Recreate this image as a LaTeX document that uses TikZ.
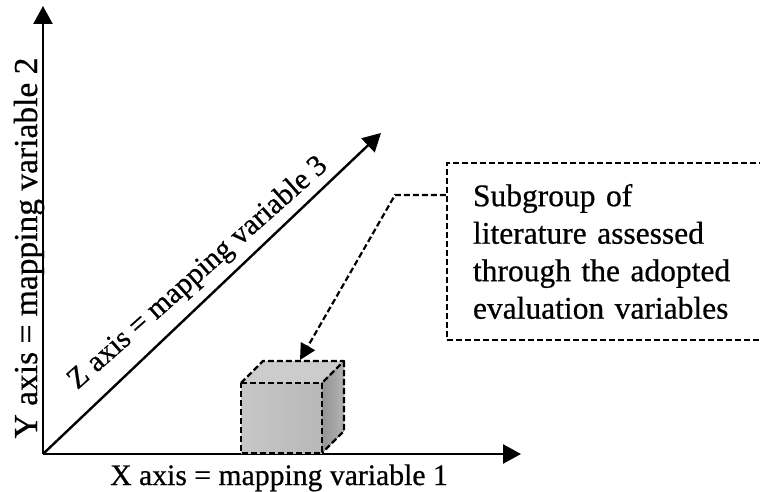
\documentclass[tikz,border=0pt]{standalone}
\usepackage{fontspec}
\setmainfont{Liberation Serif}[FakeBold=0.6]
\usetikzlibrary{arrows.meta}
\begin{document}
\begin{tikzpicture}[x=1pt,y=-1pt,
  axis/.style={line width=2.4pt,-{Triangle[length=18pt,width=19pt]}},
  dashline/.style={line width=2.2pt,dash pattern=on 6pt off 3pt},
  cubeedge/.style={line width=2.2pt,dash pattern=on 6pt off 3pt,line join=round},
  lbl/.style={inner sep=0pt,font=\fontsize{29.7}{36}\selectfont}]
\fill[white] (0,0) rectangle (760,492);
\begin{scope}
\clip (0,0) rectangle (760,492);
% axes
\coordinate (O) at (43,454);
\coordinate (Ytip) at (43,6);
\coordinate (Xtip) at (521,454);
\coordinate (Ztip) at (381,133);
\draw[axis] (O) -- (Ytip);
\draw[axis] (O) -- (Xtip);
\draw[axis] (O) -- (Ztip);
% labels
\node[lbl,anchor=base west] (xl) at (110,485) {X axis = mapping variable 1};
\node[lbl,anchor=base,rotate=90,font=\fontsize{33.5}{40}\selectfont] (yl) at (37,248) {Y axis = mapping variable 2};
\node[lbl,anchor=base,rotate=41.5,font=\fontsize{29.8}{36}\selectfont] (zl) at (203,279) {Z axis = mapping variable 3};
% cube
\coordinate (fa) at (241,383);
\coordinate (fb) at (322,383);
\coordinate (fc) at (322,453);
\coordinate (fd) at (241,453);
\coordinate (ba) at (263,361);
\coordinate (bb) at (344,361);
\coordinate (bc) at (344,431);
\fill[left color=black!22,right color=black!28] (fa) -- (fb) -- (fc) -- (fd) -- cycle;
\fill[black!20] (fa) -- (ba) -- (bb) -- (fb) -- cycle;
\fill[left color=black!42,right color=black!30] (fb) -- (bb) -- (bc) -- (fc) -- cycle;
\draw[cubeedge] (fa) -- (fb) -- (fc) -- (fd) -- cycle;
\draw[cubeedge] (fa) -- (ba) -- (bb) -- (fb);
\draw[cubeedge] (bb) -- (bc) -- (fc);
% note
\node[dashline,draw,rectangle,minimum width=318pt,minimum height=177pt,inner xsep=26pt,
  text width=266pt,align=left,font=\fontsize{31.5}{37.5}\selectfont] (note) at (606,251.5)
  {Subgroup of\\literature assessed\\through the adopted\\evaluation variables};
\coordinate (bend) at (395,195);
\coordinate (target) at (300,360);
\draw[dashline,-{Triangle[length=16pt,width=16pt]}] (note.west |- bend) -- (bend) -- (target);
\end{scope}
\pgfresetboundingbox
\useasboundingbox (0,0) rectangle (760,492);
\end{tikzpicture}
\end{document}
